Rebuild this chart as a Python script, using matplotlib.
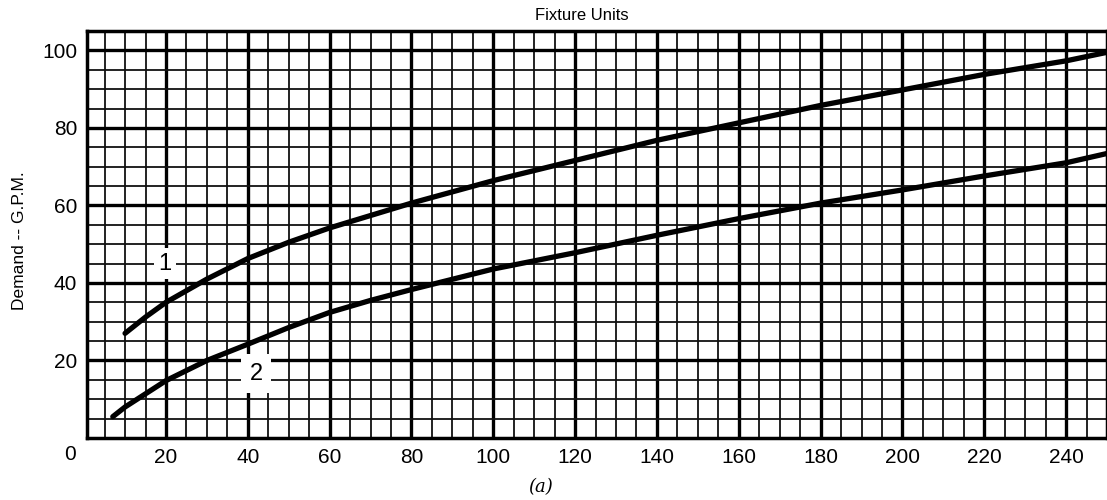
import matplotlib.pyplot as plt
from matplotlib.ticker import MultipleLocator

plt.rcParams['font.family'] = ['Liberation Sans', 'DejaVu Sans']

# curve 1 (upper) and curve 2 (lower)
fu1 = [10, 15, 20, 30, 40, 50, 60, 70, 80, 100, 120, 140, 160, 180, 200, 220, 240, 250]
gpm1 = [27, 31.2, 35, 41, 46.3, 50.5, 54.2, 57.4, 60.6, 66.4, 71.6, 76.8, 81.3, 85.8, 89.8, 93.8, 97.3, 99.5]

fu2 = [7, 10, 20, 30, 40, 50, 60, 70, 80, 100, 120, 140, 160, 180, 200, 220, 240, 250]
gpm2 = [5.5, 8, 14.8, 20, 24.2, 28.5, 32.4, 35.5, 38.3, 43.6, 47.8, 52.3, 56.6, 60.6, 64.0, 67.6, 71.0, 73.4]

xticks = [20, 40, 60, 80, 100, 120, 140, 160, 180, 200, 220, 240]
yticks = [20, 40, 60, 80, 100]


def main():
    fig = plt.figure(figsize=(11.07, 5.0), dpi=100)
    ax = fig.add_axes([0.0786, 0.124, 0.9214, 0.814])

    ax.set_xlim(0.7, 250)
    ax.set_ylim(0, 105)

    ax.xaxis.set_major_locator(MultipleLocator(20))
    ax.xaxis.set_minor_locator(MultipleLocator(5))
    ax.yaxis.set_major_locator(MultipleLocator(20))
    ax.yaxis.set_minor_locator(MultipleLocator(5))
    ax.set_xticks(xticks)
    ax.set_yticks(yticks)

    ax.grid(which='major', color='black', linewidth=2.4)
    ax.grid(which='minor', color='#111111', linewidth=1.3)
    ax.set_axisbelow(True)
    for s in ax.spines.values():
        s.set_linewidth(2.5)

    ax.tick_params(which='both', length=0, labelsize=15, pad=7)

    ax.plot(fu1, gpm1, color='black', linewidth=3.8, solid_capstyle='round', zorder=3)
    ax.plot(fu2, gpm2, color='black', linewidth=3.8, solid_capstyle='round', zorder=3)

    ax.text(19.8, 45, '1', fontsize=17, ha='center', va='center', zorder=4,
            bbox=dict(facecolor='white', edgecolor='none', pad=3))
    ax.text(42, 16.6, '2', fontsize=17, ha='center', va='center', zorder=4,
            bbox=dict(facecolor='white', edgecolor='none', pad=6))

    fig.text(0.063, 0.09, '0', fontsize=15, ha='center', va='center')
    fig.text(0.526, 0.97, 'Fixture Units', fontsize=12, ha='center', va='center')
    fig.text(0.018, 0.518, 'Demand -- G.P.M.', fontsize=12.5, rotation=90, ha='center', va='center')
    fig.text(0.488, 0.026, '(a)', fontsize=13, style='italic', family='DejaVu Serif',
             ha='center', va='center')

    fig.savefig('out.png', dpi=100)


if __name__ == '__main__':
    main()
